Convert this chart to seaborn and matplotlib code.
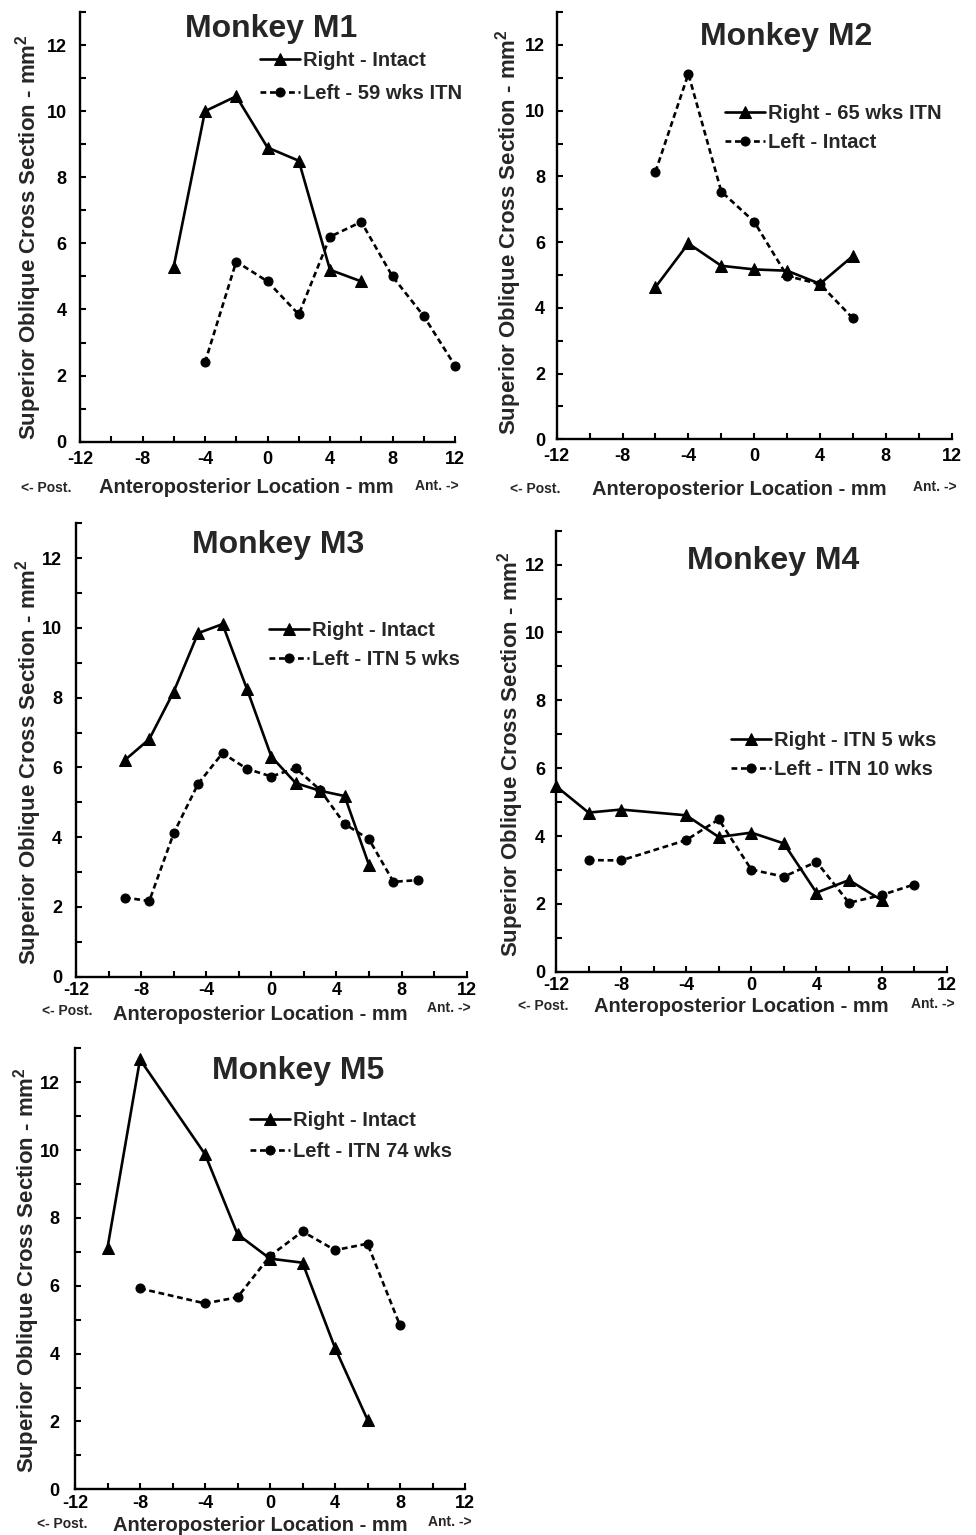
import matplotlib
matplotlib.use("Agg")
import matplotlib.pyplot as plt
import seaborn as sns

W, H = 976, 1535

# ---- data (x = anteroposterior location in mm, y = cross section in mm^2)
m1_right_x = [-6, -4, -2, 0, 2, 4, 6]
m1_right_y = [5.3, 10.0, 10.45, 8.9, 8.5, 5.2, 4.85]
m1_left_x = [-4, -2, 0, 2, 4, 6, 8, 10, 12]
m1_left_y = [2.4, 5.45, 4.85, 3.85, 6.2, 6.65, 5.0, 3.8, 2.3]

m2_right_x = [-6, -4, -2, 0, 2, 4, 6]
m2_right_y = [4.63, 5.96, 5.28, 5.17, 5.13, 4.73, 5.58]
m2_left_x = [-6, -4, -2, 0, 2, 4, 6]
m2_left_y = [8.14, 11.12, 7.54, 6.62, 4.97, 4.72, 3.68]

m3_right_x = [-9, -7.5, -6, -4.5, -3, -1.5, 0, 1.5, 3, 4.5, 6]
m3_right_y = [6.21, 6.81, 8.17, 9.85, 10.11, 8.25, 6.31, 5.55, 5.33, 5.18, 3.2]
m3_left_x = [-9, -7.5, -6, -4.5, -3, -1.5, 0, 1.5, 3, 4.5, 6, 7.5, 9]
m3_left_y = [2.27, 2.17, 4.11, 5.53, 6.41, 5.96, 5.74, 5.98, 5.35, 4.38, 3.94, 2.72, 2.77]

m4_right_x = [-12, -10, -8, -4, -2, 0, 2, 4, 6, 8]
m4_right_y = [5.47, 4.69, 4.78, 4.61, 3.97, 4.1, 3.78, 2.33, 2.7, 2.11]
m4_left_x = [-10, -8, -4, -2, 0, 2, 4, 6, 8, 10]
m4_left_y = [3.29, 3.28, 3.88, 4.49, 3.01, 2.8, 3.24, 2.03, 2.26, 2.57]

m5_right_x = [-10, -8, -4, -2, 0, 2, 4, 6]
m5_right_y = [7.12, 12.67, 9.88, 7.52, 6.8, 6.68, 4.17, 2.05]
m5_left_x = [-8, -4, -2, 0, 2, 4, 6, 8]
m5_left_y = [5.92, 5.48, 5.66, 6.88, 7.6, 7.05, 7.24, 4.83]

titles = ["Monkey M1", "Monkey M2", "Monkey M3", "Monkey M4", "Monkey M5"]
right_labels = ["Right - Intact", "Right - 65 wks ITN", "Right - Intact",
                "Right - ITN 5 wks", "Right - Intact"]
left_labels = ["Left - 59 wks ITN", "Left - Intact", "Left - ITN 5 wks",
               "Left - ITN 10 wks", "Left - ITN 74 wks"]

series = [
    (m1_right_x, m1_right_y, m1_left_x, m1_left_y),
    (m2_right_x, m2_right_y, m2_left_x, m2_left_y),
    (m3_right_x, m3_right_y, m3_left_x, m3_left_y),
    (m4_right_x, m4_right_y, m4_left_x, m4_left_y),
    (m5_right_x, m5_right_y, m5_left_x, m5_left_y),
]

# ---- layout in figure pixels
# axes box: left, right, bottom(y=0), top(y=13)
boxes = [
    (80, 455, 441.7, 12),
    (556.7, 951.7, 439.3, 12.1),
    (76, 466.7, 976.7, 523.3),
    (556, 946.7, 971.7, 530.7),
    (75, 465, 1489.3, 1048.3),
]
title_pos = [(271, 37), (786, 45), (278, 553), (773, 569), (298, 1079)]
xlabel_pos = [(246, 493), (739, 495), (260, 1020), (741, 1012), (260, 1531)]
post_pos = [(46, 492), (535, 493), (67, 1015), (543, 1010), (62, 1528)]
ant_pos = [(437, 490), (935, 491), (449, 1012), (933, 1008), (450, 1526)]
ylabel_pos = [(36, 440), (516, 435), (35, 965), (518, 957), (33, 1473)]
legend_pos = [(260, 62), (725, 115), (269, 632), (731, 742), (250, 1122)]
legend_spacing = [0.7, 0.5, 0.5, 0.5, 0.6]
ytick_pad = [9.5, 8.5, 10, 8, 11]
xtick_pad = [7, 6, 3.5, 3.5, 4]


def fx(px):
    return px / W


def fy(py):
    return 1 - py / H


sns.set_theme(style="ticks")
plt.rcParams["font.family"] = ["Liberation Sans", "DejaVu Sans"]
plt.rcParams["font.weight"] = "bold"
plt.rcParams["axes.unicode_minus"] = False
plt.rcParams["mathtext.fontset"] = "custom"
plt.rcParams["mathtext.rm"] = "Liberation Sans:bold"
plt.rcParams["mathtext.it"] = "Liberation Sans:bold"
plt.rcParams["mathtext.bf"] = "Liberation Sans:bold"
plt.rcParams["mathtext.default"] = "rm"

fig = plt.figure(figsize=(W / 100, H / 100), dpi=100)

for i, (rx, ry, lx, ly) in enumerate(series):
    l, r, b, t = boxes[i]
    ax = fig.add_axes([fx(l), fy(b), (r - l) / W, (b - t) / H])

    sns.lineplot(x=rx, y=ry, ax=ax, color="black", marker="^", markersize=9,
                 markeredgecolor="black", linewidth=1.9, errorbar=None,
                 label=right_labels[i], clip_on=False)
    sns.lineplot(x=lx, y=ly, ax=ax, color="black", marker="o", markersize=6.5,
                 markeredgecolor="black", linewidth=1.9, linestyle=(0, (2.2, 1.4)),
                 errorbar=None, label=left_labels[i], clip_on=False)

    ax.set_xlim(-12, 12)
    ax.set_ylim(0, 13)
    ax.set_xticks(range(-12, 13, 4))
    ax.set_xticks(range(-10, 11, 4), minor=True)
    ax.set_yticks(range(0, 13, 2))
    ax.set_yticks(range(1, 14, 2), minor=True)
    ax.set_xlabel("")
    ax.set_ylabel("")
    sns.despine(ax=ax)
    for side in ["left", "bottom"]:
        ax.spines[side].set_linewidth(1.7)
        ax.spines[side].set_color("black")
    ax.tick_params(which="both", direction="in", length=4, width=1.5, color="black")
    ax.tick_params(axis="both", labelsize=13, labelcolor="black")
    ax.tick_params(axis="y", pad=ytick_pad[i])
    ax.tick_params(axis="x", pad=xtick_pad[i])

    hx, hy = legend_pos[i]
    ax.legend(loc="upper left", bbox_to_anchor=(fx(hx), fy(hy - 11)),
              bbox_transform=fig.transFigure, frameon=False,
              prop={"size": 14.5, "weight": "bold"}, handlelength=2.0,
              handletextpad=0.15, borderpad=0, borderaxespad=0,
              labelspacing=legend_spacing[i])

    tx, ty = title_pos[i]
    fig.text(fx(tx), fy(ty), titles[i], ha="center", va="baseline",
             fontsize=23, fontweight="bold")
    lx_, ly_ = xlabel_pos[i]
    fig.text(fx(lx_), fy(ly_), "Anteroposterior Location - mm", ha="center",
             va="baseline", fontsize=14.5, fontweight="bold")
    px_, py_ = post_pos[i]
    fig.text(fx(px_), fy(py_), "<- Post.", ha="center", va="baseline",
             fontsize=10, fontweight="bold")
    ax_, ay_ = ant_pos[i]
    fig.text(fx(ax_), fy(ay_), "Ant. ->", ha="center", va="baseline",
             fontsize=10, fontweight="bold")
    yx, yy = ylabel_pos[i]
    fig.text(fx(yx), fy(yy), "Superior Oblique Cross Section - mm$^2$",
             rotation=90, rotation_mode="anchor", ha="left", va="baseline",
             fontsize=16, fontweight="bold")

fig.savefig("out.png", dpi=100, facecolor="white")
